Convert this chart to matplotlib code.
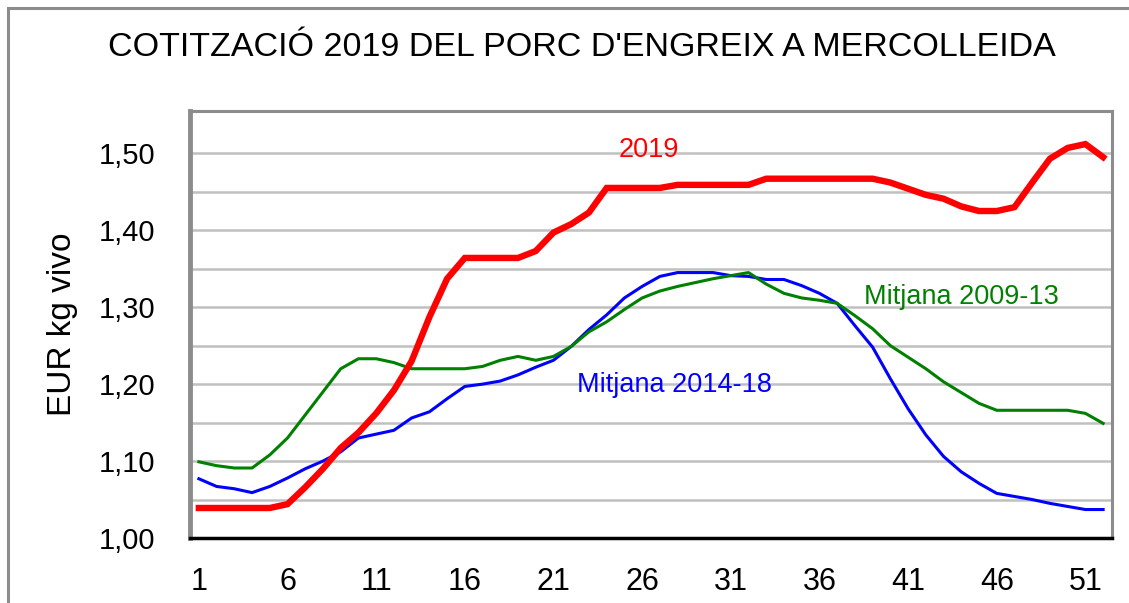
import matplotlib
matplotlib.use("Agg")
import matplotlib.pyplot as plt
from matplotlib.patches import Rectangle
from matplotlib.ticker import FixedLocator, FuncFormatter

plt.rcParams['font.family'] = ['Liberation Sans', 'DejaVu Sans']

setmanes = list(range(1, 53))

preu_2019 = [1.039, 1.039, 1.039, 1.039, 1.039, 1.044, 1.066, 1.090, 1.117, 1.137,
             1.162, 1.192, 1.230, 1.287, 1.337, 1.364, 1.364, 1.364, 1.364, 1.373,
             1.397, 1.408, 1.423, 1.455, 1.455, 1.455, 1.455, 1.459, 1.459, 1.459,
             1.459, 1.459, 1.467, 1.467, 1.467, 1.467, 1.467, 1.467, 1.467, 1.462,
             1.454, 1.446, 1.441, 1.431, 1.425, 1.425, 1.430, 1.462, 1.493, 1.507,
             1.512, 1.495]

mitjana_2014_18 = [1.077, 1.067, 1.064, 1.059, 1.067, 1.078, 1.090, 1.100, 1.112, 1.130,
                   1.135, 1.140, 1.156, 1.164, 1.181, 1.197, 1.200, 1.204, 1.212, 1.222,
                   1.231, 1.249, 1.271, 1.290, 1.312, 1.327, 1.340, 1.345, 1.345, 1.345,
                   1.341, 1.340, 1.336, 1.336, 1.328, 1.318, 1.305, 1.276, 1.248, 1.207,
                   1.168, 1.134, 1.106, 1.086, 1.071, 1.058, 1.054, 1.050, 1.045, 1.041,
                   1.037, 1.037]

mitjana_2009_13 = [1.099, 1.094, 1.091, 1.091, 1.108, 1.130, 1.160, 1.190, 1.220, 1.233,
                   1.233, 1.228, 1.220, 1.220, 1.220, 1.220, 1.223, 1.231, 1.236, 1.231,
                   1.236, 1.249, 1.268, 1.281, 1.297, 1.312, 1.321, 1.327, 1.332, 1.337,
                   1.341, 1.345, 1.330, 1.318, 1.312, 1.309, 1.305, 1.289, 1.272, 1.250,
                   1.235, 1.220, 1.203, 1.189, 1.175, 1.166, 1.166, 1.166, 1.166, 1.166,
                   1.162, 1.149]

fig = plt.figure(figsize=(11.29, 6.03), dpi=100)
ax = fig.add_axes([190 / 1129, 1 - 538 / 603, 922 / 1129, 427 / 603])

# marc exterior del grafic
fig.patches.append(Rectangle((8 / 1129, -0.2), 1.2, 1.2 - 10 / 603 + 0.003,
                             transform=fig.transFigure, fill=False,
                             edgecolor='#8c8c8c', linewidth=2.2))

ax.plot(setmanes, mitjana_2014_18, color='#0000ff', lw=2.2, zorder=3)
ax.plot(setmanes, mitjana_2009_13, color='#008000', lw=2.2, zorder=4)
ax.plot(setmanes, preu_2019, color='#ff0000', lw=4.6, zorder=5,
        solid_joinstyle='miter')

ax.set_xlim(0.5, 52.5)
ax.set_ylim(1.0, 1.555)
ax.yaxis.set_major_locator(FixedLocator([1.0, 1.1, 1.2, 1.3, 1.4, 1.5]))
ax.yaxis.set_major_formatter(FuncFormatter(lambda v, p: f"{v:.2f}".replace('.', ',')))
ax.set_xticks(range(1, 53, 5))
for g in [1.05 + 0.05 * k for k in range(10)]:
    ax.axhline(g, color='#c0c0c0', lw=1.8, zorder=1)

ax.tick_params(axis='y', length=0, pad=25, labelsize=21)
ax.tick_params(axis='x', length=0, pad=21, labelsize=22)

for s in ['top', 'right']:
    ax.spines[s].set_color('#8c8c8c')
    ax.spines[s].set_linewidth(2.2)
ax.spines['left'].set_color('#8c8c8c')
ax.spines['left'].set_linewidth(3.5)
ax.spines['bottom'].set_color('black')
ax.spines['bottom'].set_linewidth(2.5)

ax.set_ylabel('EUR kg vivo', fontsize=24, labelpad=15)

ax.text(26.4, 1.504, '2019', color='#ff0000', fontsize=19.5,
        ha='center', va='center')
ax.text(27.85, 1.199, 'Mitjana 2014-18', color='#0000ff', fontsize=19.5,
        ha='center', va='center')
ax.text(44.0, 1.3126, 'Mitjana 2009-13', color='#008000', fontsize=19.5,
        ha='center', va='center')

fig.text(582 / 1129, 1 - 47 / 603, "COTITZACIÓ 2019 DEL PORC D'ENGREIX A MERCOLLEIDA",
         fontsize=24.5, ha='center', va='center')

fig.savefig('out.png', dpi=100)
